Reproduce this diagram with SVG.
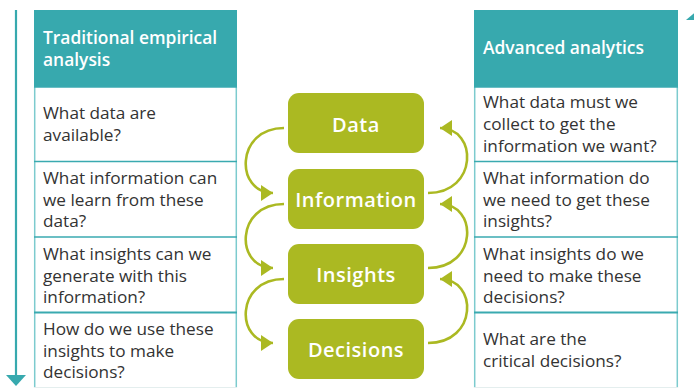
<svg xmlns="http://www.w3.org/2000/svg" width="694" height="388" viewBox="0 0 694 388">
<defs>
<style>
.hdr{fill:#37a9ae}
.vb{stroke:#7ccbce;stroke-width:1.5;fill:none}
.sep{stroke:#3aaab0;stroke-width:1.5}
.sep2{stroke:#3aaab0;stroke-width:2.2}
.ht{font-family:"Open Sans","Noto Sans",sans-serif;font-size:17.4px;font-weight:600;fill:#ffffff}
.bt{font-family:"Open Sans","Noto Sans",sans-serif;font-size:17.2px;fill:#333333}
.box{fill:#abb922}
.nt{font-family:"Open Sans","Noto Sans",sans-serif;font-size:20px;font-weight:600;fill:#ffffff;text-anchor:middle;letter-spacing:0.5px}
.cv{fill:none;stroke:#abb922;stroke-width:2.6}
.tl{stroke:#37a9ae;stroke-width:2.2}
</style>
<marker id="ah" viewBox="0 0 12 16" refX="12" refY="8" markerWidth="12" markerHeight="16" markerUnits="userSpaceOnUse" orient="auto">
<path d="M0,0 L12,8 L0,16 Z" fill="#abb922"/>
</marker>
</defs>

<g id="timeline-left">
<line class="tl" x1="16" y1="10" x2="16" y2="376"/>
<path d="M6,375 L26,375 L16,386 Z" fill="#37a9ae"/>
</g>
<g id="timeline-right">
<path d="M686,20 L700,20 L700,8 Z" fill="#37a9ae"/>
</g>

<g id="col-left">
<rect class="hdr" x="34" y="10" width="203" height="77"/>
<text class="ht" x="43" y="43.5">Traditional empirical<tspan x="43" y="65.5">analysis</tspan></text>
<line class="vb" x1="34.7" y1="87" x2="34.7" y2="388"/>
<line class="vb" x1="236.3" y1="87" x2="236.3" y2="388"/>
<line class="sep" x1="34" y1="87" x2="237" y2="87"/>
<line class="sep" x1="34" y1="161.5" x2="237" y2="161.5"/>
<line class="sep" x1="34" y1="237" x2="237" y2="237"/>
<line class="sep2" x1="34" y1="312.5" x2="237" y2="312.5"/>
<line x1="34" y1="387.5" x2="237" y2="387.5" stroke="#e4eeee" stroke-width="1"/>
<g id="left-r1"><text class="bt" x="43" y="119">What data are<tspan x="43" y="141">available?</tspan></text></g>
<g id="left-r2"><text class="bt" x="43" y="184">What information can<tspan x="43" y="205.5">we learn from these</tspan><tspan x="43" y="227">data?</tspan></text></g>
<g id="left-r3"><text class="bt" x="43" y="260">What insights can we<tspan x="43" y="281.5">generate with this</tspan><tspan x="43" y="303">information?</tspan></text></g>
<g id="left-r4"><text class="bt" x="43" y="335">How do we use these<tspan x="43" y="356.5">insights to make</tspan><tspan x="43" y="378">decisions?</tspan></text></g>
</g>

<g id="col-right">
<rect class="hdr" x="474" y="10" width="204" height="77"/>
<text class="ht" x="483" y="54">Advanced analytics</text>
<line class="vb" x1="474.7" y1="87" x2="474.7" y2="388"/>
<line class="vb" x1="677.3" y1="87" x2="677.3" y2="388"/>
<line class="sep" x1="474" y1="87" x2="678" y2="87"/>
<line class="sep" x1="474" y1="161.5" x2="678" y2="161.5"/>
<line class="sep" x1="474" y1="237" x2="678" y2="237"/>
<line class="sep2" x1="474" y1="312.5" x2="678" y2="312.5"/>
<line x1="474" y1="387.5" x2="678" y2="387.5" stroke="#e4eeee" stroke-width="1"/>
<g id="right-r1"><text class="bt" x="483" y="108">What data must we<tspan x="483" y="130">collect to get the</tspan><tspan x="483" y="152">information we want?</tspan></text></g>
<g id="right-r2"><text class="bt" x="483" y="184">What information do<tspan x="483" y="205.5">we need to get these</tspan><tspan x="483" y="227">insights?</tspan></text></g>
<g id="right-r3"><text class="bt" x="483" y="260">What insights do we<tspan x="483" y="281.5">need to make these</tspan><tspan x="483" y="303">decisions?</tspan></text></g>
<g id="right-r4"><text class="bt" x="483" y="345">What are the<tspan x="483" y="367">critical decisions?</tspan></text></g>
</g>

<g id="node-data"><rect class="box" x="288" y="93" width="136" height="60" rx="11"/><text class="nt" x="356" y="131.5">Data</text></g>
<g id="node-information"><rect class="box" x="288" y="169" width="136" height="60" rx="11"/><text class="nt" x="356" y="206.5">Information</text></g>
<g id="node-insights"><rect class="box" x="288" y="244" width="136" height="60" rx="11"/><text class="nt" x="356" y="281.5">Insights</text></g>
<g id="node-decisions"><rect class="box" x="288" y="319" width="136" height="60" rx="11"/><text class="nt" x="356" y="356.5">Decisions</text></g>

<g id="connectors">
<path class="cv" d="M284,128 C235,128 235,193 273,193" marker-end="url(#ah)"/>
<path class="cv" d="M284,204 C235,204 235,268 273,268" marker-end="url(#ah)"/>
<path class="cv" d="M284,279 C235,279 235,343 273,343" marker-end="url(#ah)"/>
<path class="cv" d="M428,193 C478,193 478,128 440,128" marker-end="url(#ah)"/>
<path class="cv" d="M428,268 C478,268 478,204 440,204" marker-end="url(#ah)"/>
<path class="cv" d="M428,343 C478,343 478,279 440,279" marker-end="url(#ah)"/>
</g>
</svg>
